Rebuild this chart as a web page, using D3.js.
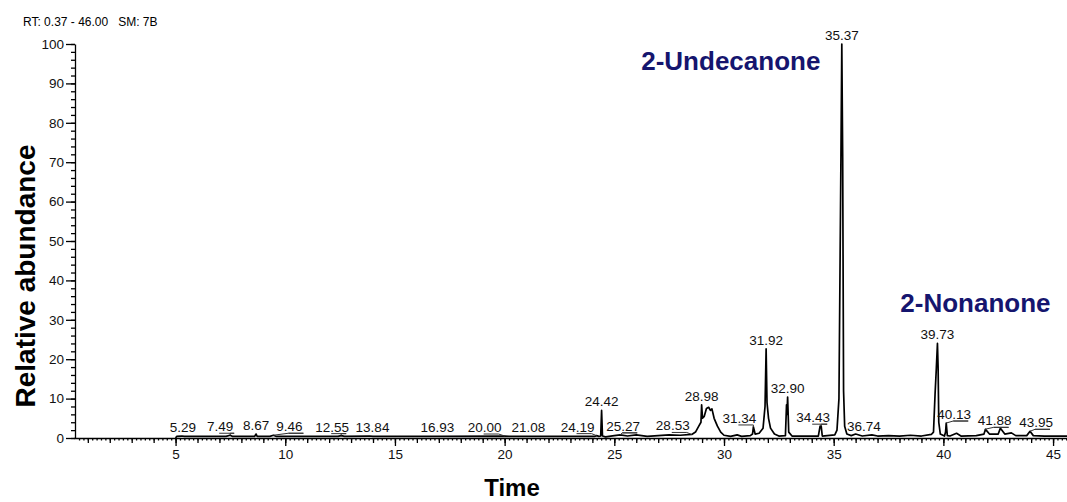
<!DOCTYPE html>
<html>
<head>
<meta charset="utf-8">
<script src="https://cdn.jsdelivr.net/npm/d3@7"></script>
<style>
  body { margin: 0; background: #fff; }
  svg { display: block; font-family: "Liberation Sans", Arial, sans-serif; }
  .axis path, .axis line { stroke: #000; stroke-width: 1.3; }
  .axis text { font-size: 13.5px; fill: #111; }
</style>
</head>
<body>
<svg id="chart" width="1067" height="502"></svg>
<script>
// Chromatogram trace: retention time (min) and relative abundance (%)
var traceTimes = [5.0, 5.05, 5.29, 5.4, 7.3, 7.49, 7.6, 8.6, 8.67, 8.72, 9.3, 9.46, 9.6, 12.4, 12.55, 12.7,
  13.84, 14.0, 16.93, 17.1, 20.0, 20.2, 21.08, 21.3, 24.1, 24.19, 24.3, 24.38, 24.42, 24.46, 24.6,
  25.0, 25.27, 25.6, 26.0, 26.5, 27.0, 27.5, 28.0, 28.53, 28.7, 28.85, 28.95, 28.98, 29.02, 29.1,
  29.2, 29.3, 29.38, 29.45, 29.55, 29.7, 29.85, 30.0, 30.3, 30.6, 30.8, 31.2, 31.3, 31.34, 31.42,
  31.6, 31.78, 31.87, 31.92, 31.96, 32.03, 32.12, 32.3, 32.5, 32.8, 32.85, 32.87, 32.9, 32.95, 33.1,
  34.3, 34.38, 34.43, 34.48, 35.05, 35.15, 35.24, 35.33, 35.37, 35.41, 35.45, 35.5, 35.6, 35.8,
  36.0, 36.3, 36.74, 37.0, 37.5, 38.0, 38.5, 39.0, 39.45, 39.55, 39.62, 39.68, 39.73, 39.76, 39.79,
  39.86, 40.05, 40.1, 40.13, 40.18, 40.3, 40.6, 40.8, 41.5, 41.85, 41.92, 42.1, 42.5, 42.6, 42.8,
  43.1, 43.3, 43.8, 43.95, 44.1, 44.6, 45.5, 46.0];
var traceValues = [0, 0.4, 0.5, 0.4, 0.4, 0.7, 0.4, 0.4, 1.0, 0.4, 0.4, 0.7, 0.4, 0.4, 0.6, 0.4,
  0.5, 0.4, 0.4, 0.4, 0.5, 0.4, 0.4, 0.4, 0.4, 0.6, 0.4, 0.5, 7.0, 0.5, 0.3,
  0.6, 0.8, 0.5, 0.8, 0.4, 0.6, 0.8, 0.7, 0.9, 1.5, 3.0, 4.0, 8.4, 5.0, 5.5,
  7.5, 7.8, 7.0, 7.4, 5.0, 3.0, 1.5, 0.7, 0.4, 0.8, 0.4, 0.6, 1.0, 2.8, 1.0,
  1.2, 2.5, 8.0, 22.6, 9.0, 5.0, 2.5, 1.0, 0.5, 0.6, 8.4, 6.0, 10.4, 1.5, 0.5,
  0.5, 3.0, 3.0, 0.5, 0.8, 2.0, 10.0, 71, 100, 71, 12, 3.0, 1.0, 0.6,
  1.0, 0.5, 0.8, 0.5, 0.6, 0.5, 0.7, 0.5, 0.9, 1.5, 11, 17.8, 24.0, 17.8, 4.0,
  1.0, 0.5, 1.5, 3.8, 0.6, 0.5, 1.2, 0.5, 0.6, 1.0, 2.2, 1.0, 1.0, 2.5, 1.0,
  1.3, 0.6, 0.6, 1.7, 0.6, 0.5, 0.5, 0.5];

// Labelled peaks
var peakTimes = [5.29, 7.49, 8.67, 9.46, 12.55, 13.84, 16.93, 20.00, 21.08, 24.19, 24.42, 25.27,
  28.53, 28.98, 31.34, 31.92, 32.90, 34.43, 35.37, 36.74, 39.73, 40.13, 41.88, 43.95];
var underlinedPeaks = [7.49, 9.46, 12.55, 20.00, 24.19, 25.27, 28.53, 31.34, 34.43, 40.13, 41.88, 43.95];
// label nudges (px) so that crowded labels do not collide
var labelShift = [1, -10, 0, 16, -9, 3, 0, -20, 0, -19, 0, 3,
  -19, 0, -14, 0, 0, -8, 0, -8, 0, 8, 10, 6];

// Compound annotations
var compoundNames = ["2-Undecanone", "2-Nonanone"];
var compoundTimes = [35.37, 39.73];
var nameOffsets = [[-111, 26], [38, -31]];

var yTicks = d3.range(0, 101, 10);
var xTicks = [5, 10, 15, 20, 25, 30, 35, 40, 45];

var svg = d3.select("#chart");
var xScale = d3.scaleLinear().domain([0.37, 46]).range([74, 1075]);
var yScale = d3.scaleLinear().domain([0, 100]).range([438, 44]);

// header
svg.append("text")
    .attr("x", 23).attr("y", 26)
    .attr("xml:space", "preserve")
    .style("font-size", "12px")
    .text("RT: 0.37 - 46.00   SM: 7B");

// y axis: minor then major ticks
svg.append("g").attr("class", "axis")
    .attr("transform", "translate(75,0)")
    .call(d3.axisLeft(yScale).tickValues(d3.range(0, 101, 2)).tickSize(4).tickSizeOuter(0).tickFormat(""));
svg.append("g").attr("class", "axis")
    .attr("transform", "translate(75,0)")
    .call(d3.axisLeft(yScale).tickValues(yTicks).tickSize(9).tickSizeOuter(0).tickPadding(2))
    .select(".domain").remove();

// x axis: minor (0.2), integer, and major (5) ticks
var xMinor = d3.range(1, 230).map(function(i){ return i * 0.2; }).filter(function(v){ return v > 0.4 && v < 46; });
svg.append("g").attr("class", "axis")
    .attr("transform", "translate(0,438)")
    .call(d3.axisBottom(xScale).tickValues(xMinor).tickSize(2.5).tickSizeOuter(0).tickFormat(""));
svg.append("g").attr("class", "axis")
    .attr("transform", "translate(0,438)")
    .call(d3.axisBottom(xScale).tickValues(d3.range(1, 46)).tickSize(5).tickSizeOuter(0).tickFormat(""))
    .select(".domain").remove();
svg.append("g").attr("class", "axis")
    .attr("transform", "translate(0,438)")
    .call(d3.axisBottom(xScale).tickValues(xTicks).tickSize(8).tickSizeOuter(0).tickPadding(3))
    .select(".domain").remove();

// trace
var traceData = traceTimes.map(function(t, i){ return [t, traceValues[i]]; });
var line = d3.line()
    .x(function(d){ return xScale(d[0]); })
    .y(function(d){ return yScale(d[1]); });
svg.append("path")
    .datum(traceData)
    .attr("d", line)
    .attr("fill", "none")
    .attr("stroke", "#000")
    .attr("stroke-width", 1.7)
    .attr("stroke-linejoin", "round");

// apex height near a time
function apexAt(t) {
    var m = 0;
    traceData.forEach(function(d){
        if (Math.abs(d[0] - t) <= 0.05) m = Math.max(m, d[1]);
    });
    return m;
}

// peak labels
var labels = svg.append("g").selectAll("g")
    .data(peakTimes)
    .enter()
    .append("g")
    .attr("transform", function(t, i){
        return "translate(" + (xScale(t) + labelShift[i]) + "," + (yScale(apexAt(t)) - 4) + ")";
    });
labels.append("text")
    .attr("text-anchor", "middle")
    .style("font-size", "13.5px")
    .attr("fill", "#111")
    .text(function(t){ return t.toFixed(2); });

// leader lines: underline beneath the label, then down to the peak
labels.each(function(t, i){
    if (underlinedPeaks.indexOf(t) < 0) return;
    var g = d3.select(this);
    var dx = -labelShift[i];
    var x1 = -1, x2 = 14;
    var end = Math.max(x1, Math.min(x2, dx));
    g.append("polyline")
        .attr("points", [[x1, 2], [x2, 2]].join(" ") + " " + [end, 2] + " " + [dx, 4])
        .attr("fill", "none")
        .attr("stroke", "#333")
        .attr("stroke-width", 1);
});

// compound names
svg.append("g").selectAll("text")
    .data(compoundNames)
    .enter()
    .append("text")
    .attr("x", function(d, i){ return xScale(compoundTimes[i]) + nameOffsets[i][0]; })
    .attr("y", function(d, i){ return yScale(apexAt(compoundTimes[i])) + nameOffsets[i][1]; })
    .attr("text-anchor", "middle")
    .style("font-size", "26px")
    .style("font-weight", "bold")
    .attr("fill", "#15156e")
    .text(function(d){ return d; });

// axis titles
svg.append("text")
    .attr("transform", "translate(35,276) rotate(-90)")
    .attr("text-anchor", "middle")
    .style("font-size", "28px")
    .style("font-weight", "bold")
    .text("Relative abundance");
svg.append("text")
    .attr("x", 512).attr("y", 496)
    .attr("text-anchor", "middle")
    .style("font-size", "24px")
    .style("font-weight", "bold")
    .text("Time");
</script>
</body>
</html>
